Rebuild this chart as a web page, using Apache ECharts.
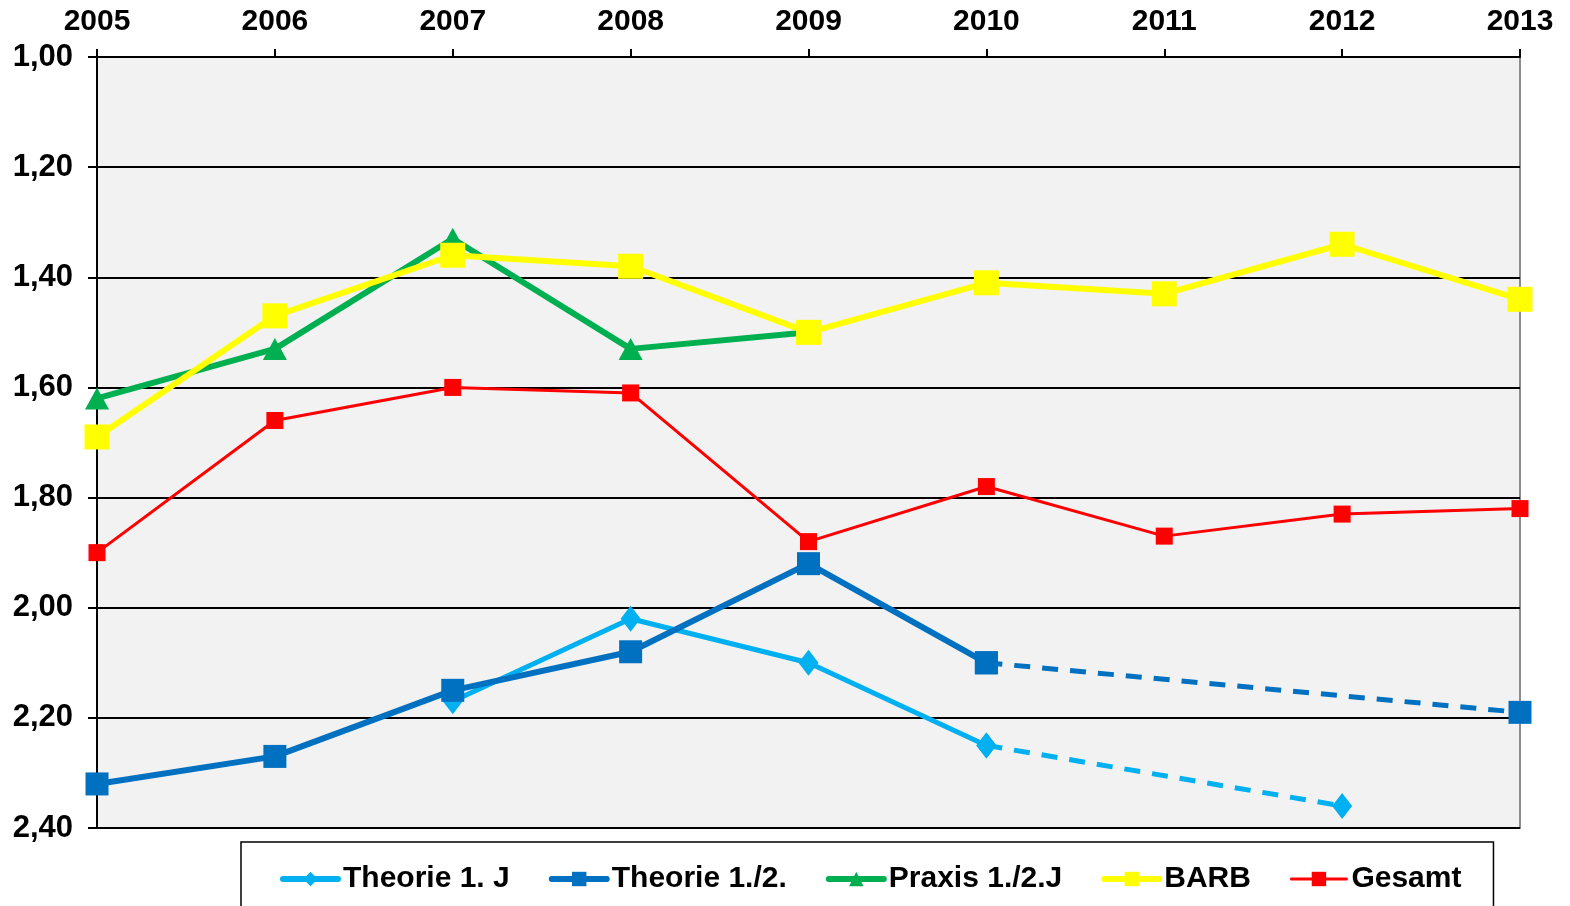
<!DOCTYPE html>
<html>
<head>
<meta charset="utf-8">
<script src="https://cdn.jsdelivr.net/npm/echarts@6/dist/echarts.min.js"></script>
<style>
  html, body { margin: 0; padding: 0; background: #fff; }
  #chart { width: 1570px; height: 906px; }
</style>
</head>
<body>
<div id="chart"></div>
<script>
// years on the top axis
const years = ['2005', '2006', '2007', '2008', '2009', '2010', '2011', '2012', '2013'];

// grades (lower is better, axis is inverted)
const theorie1J      = [null, null, 2.17, 2.02, 2.10, 2.25, null, null, null];
const theorie1JNext  = [null, null, null, null, null, 2.25, null, 2.36, null];
const theorie12      = [2.32, 2.27, 2.15, 2.08, 1.92, 2.10, null, null, null];
const theorie12Next  = [null, null, null, null, null, 2.10, null, null, 2.19];
const praxis12       = [1.62, 1.53, 1.33, 1.53, 1.50, null, null, null, null];
const barb           = [1.69, 1.47, 1.36, 1.38, 1.50, 1.41, 1.43, 1.34, 1.44];
const gesamt         = [1.90, 1.66, 1.60, 1.61, 1.88, 1.78, 1.87, 1.83, 1.82];

const labelFont = 'Liberation Sans, Arial, sans-serif';

const chart = echarts.init(document.getElementById('chart'));

const option = {
  animation: false,
  backgroundColor: '#fff',
  grid: {
    left: 97,
    right: 50,
    top: 57,
    bottom: 78,
    show: true,
    backgroundColor: '#f2f2f2',
    borderColor: '#8c8c8c',
    borderWidth: 2
  },
  legend: {
    data: [
      { name: 'Theorie 1. J', lineStyle: { width: 6, cap: 'round' } },
      { name: 'Theorie 1./2.', lineStyle: { width: 6, cap: 'round' } },
      { name: 'Praxis 1./2.J', lineStyle: { width: 6, cap: 'round' } },
      { name: 'BARB', lineStyle: { width: 6, cap: 'round' } },
      { name: 'Gesamt', lineStyle: { width: 3, cap: 'round' } }
    ],
    left: 241,
    top: 842,
    padding: [22, 32, 40, 39],
    itemGap: 39,
    itemWidth: 55,
    itemHeight: 18,
    backgroundColor: '#fff',
    borderColor: '#000',
    borderWidth: 1.5,
    textStyle: { fontFamily: labelFont, fontWeight: 'bold', fontSize: 30, color: '#000' }
  },
  xAxis: {
    type: 'category',
    position: 'top',
    data: years,
    boundaryGap: false,
    axisLine: { lineStyle: { color: '#000', width: 2 } },
    axisTick: { show: true, inside: false, length: 8, lineStyle: { color: '#000', width: 2 } },
    axisLabel: {
      color: '#000', fontFamily: labelFont, fontWeight: 'bold', fontSize: 30, margin: 20
    },
    splitLine: { show: false }
  },
  yAxis: {
    type: 'value',
    inverse: true,
    min: 1,
    max: 2.4,
    interval: 0.2,
    axisLine: { show: true, lineStyle: { color: '#000', width: 2 } },
    axisTick: { show: true, length: 9, lineStyle: { color: '#000', width: 2 } },
    axisLabel: {
      color: '#000', fontFamily: labelFont, fontWeight: 'bold', fontSize: 31, margin: 24,
      formatter: v => v.toFixed(2).replace('.', ',')
    },
    splitLine: { show: true, lineStyle: { color: '#000', width: 2 } }
  },
  series: [
    {
      name: 'Theorie 1. J', type: 'line', data: theorie1J,
      symbol: 'diamond', symbolSize: [20, 26],
      itemStyle: { color: '#00b0f0' }, lineStyle: { width: 5, color: '#00b0f0' }
    },
    {
      name: 'Theorie 1. J', type: 'line', data: theorie1JNext, connectNulls: true,
      symbol: 'diamond', symbolSize: [20, 26],
      itemStyle: { color: '#00b0f0' }, lineStyle: { width: 5, color: '#00b0f0', type: [16, 12] }
    },
    {
      name: 'Theorie 1./2.', type: 'line', data: theorie12,
      symbol: 'rect', symbolSize: 23,
      itemStyle: { color: '#0070c0' }, lineStyle: { width: 6, color: '#0070c0' }
    },
    {
      name: 'Theorie 1./2.', type: 'line', data: theorie12Next, connectNulls: true,
      symbol: 'rect', symbolSize: 23,
      itemStyle: { color: '#0070c0' }, lineStyle: { width: 5, color: '#0070c0', type: [16, 12] }
    },
    {
      name: 'Praxis 1./2.J', type: 'line', data: praxis12,
      symbol: 'triangle', symbolSize: [24, 22],
      itemStyle: { color: '#00b050' }, lineStyle: { width: 6, color: '#00b050' }
    },
    {
      name: 'BARB', type: 'line', data: barb,
      symbol: 'rect', symbolSize: 25,
      itemStyle: { color: '#ffff00' }, lineStyle: { width: 6, color: '#ffff00' }
    },
    {
      name: 'Gesamt', type: 'line', data: gesamt,
      symbol: 'rect', symbolSize: 17,
      itemStyle: { color: '#ff0000' }, lineStyle: { width: 3, color: '#ff0000' }
    }
  ]
};

chart.setOption(option);
</script>
</body>
</html>
